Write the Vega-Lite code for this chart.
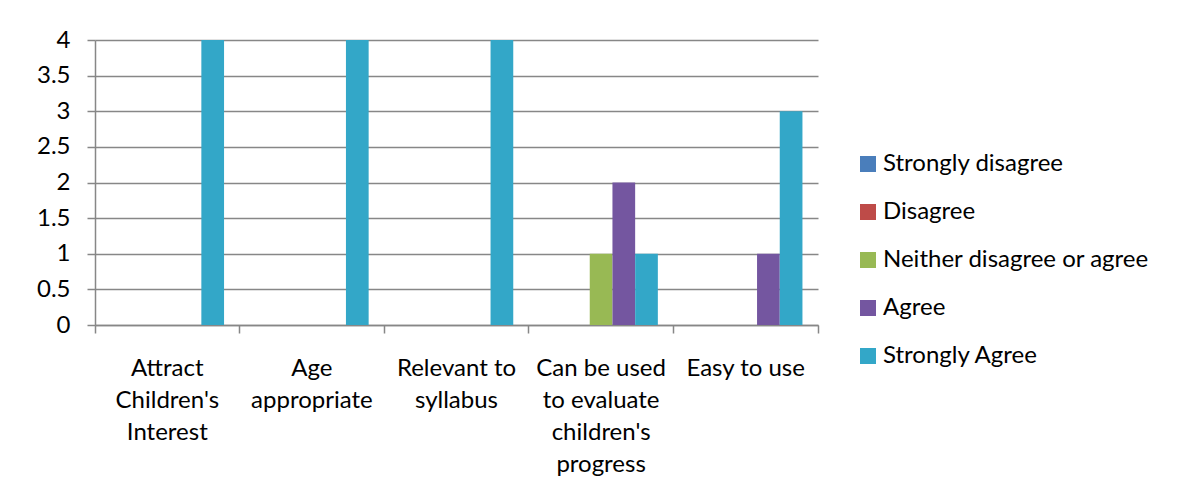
{
  "$schema": "https://vega.github.io/schema/vega-lite/v6.json",
  "width": 723,
  "height": 285,
  "autosize": "none",
  "padding": {"left": 95, "top": 40, "right": 366, "bottom": 176},
  "background": "white",
  "config": {
    "font": "Lato",
    "view": {"stroke": null},
    "axis": {"labelColor": "#000000", "labelFont": "Lato", "labelFontSize": 24, "domainColor": "#878787", "tickColor": "#878787", "gridColor": "#878787", "domainWidth": 1.5, "tickWidth": 1.5, "gridWidth": 1.5},
    "legend": {"labelFont": "Lato", "labelColor": "#000000"}
  },
  "data": {
    "values": [
      {"item": "Attract Children's Interest", "response": "Strongly disagree", "count": 0},
      {"item": "Attract Children's Interest", "response": "Disagree", "count": 0},
      {"item": "Attract Children's Interest", "response": "Neither disagree or agree", "count": 0},
      {"item": "Attract Children's Interest", "response": "Agree", "count": 0},
      {"item": "Attract Children's Interest", "response": "Strongly Agree", "count": 4},
      {"item": "Age appropriate", "response": "Strongly disagree", "count": 0},
      {"item": "Age appropriate", "response": "Disagree", "count": 0},
      {"item": "Age appropriate", "response": "Neither disagree or agree", "count": 0},
      {"item": "Age appropriate", "response": "Agree", "count": 0},
      {"item": "Age appropriate", "response": "Strongly Agree", "count": 4},
      {"item": "Relevant to syllabus", "response": "Strongly disagree", "count": 0},
      {"item": "Relevant to syllabus", "response": "Disagree", "count": 0},
      {"item": "Relevant to syllabus", "response": "Neither disagree or agree", "count": 0},
      {"item": "Relevant to syllabus", "response": "Agree", "count": 0},
      {"item": "Relevant to syllabus", "response": "Strongly Agree", "count": 4},
      {"item": "Can be used to evaluate children's progress", "response": "Strongly disagree", "count": 0},
      {"item": "Can be used to evaluate children's progress", "response": "Disagree", "count": 0},
      {"item": "Can be used to evaluate children's progress", "response": "Neither disagree or agree", "count": 1},
      {"item": "Can be used to evaluate children's progress", "response": "Agree", "count": 2},
      {"item": "Can be used to evaluate children's progress", "response": "Strongly Agree", "count": 1},
      {"item": "Easy to use", "response": "Strongly disagree", "count": 0},
      {"item": "Easy to use", "response": "Disagree", "count": 0},
      {"item": "Easy to use", "response": "Neither disagree or agree", "count": 0},
      {"item": "Easy to use", "response": "Agree", "count": 1},
      {"item": "Easy to use", "response": "Strongly Agree", "count": 3}
    ]
  },
  "mark": {"type": "bar"},
  "encoding": {
    "x": {
      "field": "item",
      "type": "nominal",
      "sort": null,
      "scale": {"paddingInner": 0, "paddingOuter": 0},
      "axis": {
        "title": null,
        "labelAngle": 0,
        "bandPosition": 1,
        "tickExtra": true,
        "tickSize": 8,
        "labelPadding": 23,
        "labelAlign": "center",
        "labelBaseline": "top",
        "labelLineHeight": 32,
        "labelOverlap": false,
        "labelBound": false,
        "labelLimit": 0,
        "labelExpr": "datum.value == \"Attract Children's Interest\" ? ['Attract', \"Children's\", 'Interest'] : datum.value == 'Age appropriate' ? ['Age', 'appropriate'] : datum.value == 'Relevant to syllabus' ? ['Relevant to', 'syllabus'] : datum.value == \"Can be used to evaluate children's progress\" ? ['Can be used', 'to evaluate', \"children's\", 'progress'] : datum.label"
      }
    },
    "xOffset": {
      "field": "response",
      "sort": ["Strongly disagree", "Disagree", "Neither disagree or agree", "Agree", "Strongly Agree"],
      "scale": {"paddingInner": 0, "paddingOuter": 0.685}
    },
    "y": {
      "field": "count",
      "type": "quantitative",
      "scale": {"domain": [0, 4], "nice": false},
      "axis": {
        "title": null,
        "values": [0, 0.5, 1, 1.5, 2, 2.5, 3, 3.5, 4],
        "format": "~g",
        "grid": true,
        "tickSize": 8,
        "labelPadding": 17
      }
    },
    "color": {
      "field": "response",
      "type": "nominal",
      "scale": {
        "domain": ["Strongly disagree", "Disagree", "Neither disagree or agree", "Agree", "Strongly Agree"],
        "range": ["#4A7EBB", "#BE4B48", "#98B954", "#7456A0", "#33A7C8"]
      },
      "legend": {
        "title": null,
        "orient": "none",
        "legendX": 761,
        "legendY": 112,
        "symbolType": "square",
        "symbolSize": 256,
        "symbolStrokeWidth": 0,
        "symbolOpacity": 1,
        "labelFontSize": 24,
        "labelOffset": 3,
        "rowPadding": 24,
        "labelLimit": 0
      }
    }
  }
}
